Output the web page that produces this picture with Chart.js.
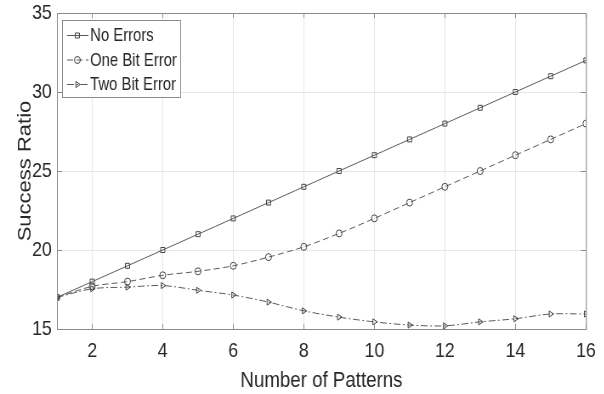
<!DOCTYPE html>
<html>
<head>
<meta charset="utf-8">
<script src="https://cdn.jsdelivr.net/npm/chart.js@4"></script>
<style>
  html, body { margin: 0; padding: 0; background: #fff; overflow: hidden; }
  /* the source figure is squeezed sideways, so the text is tall and narrow */
  #wrap { width: 711px; height: 394px; transform: scaleX(0.85); transform-origin: 0 0; }
</style>
</head>
<body>
<div id="wrap"><canvas id="chart" width="711" height="394"></canvas></div>
<script>
// data
const patterns = [1, 2, 3, 4, 5, 6, 7, 8, 9, 10, 11, 12, 13, 14, 15, 16];
const noErrors = [17, 18, 19, 20, 21, 22, 23, 24, 25, 26, 27, 28, 29, 30, 31, 32];
const oneBitError = [17, 17.7, 18, 18.4, 18.65, 19, 19.55, 20.2, 21.05, 22, 23, 24, 25, 26, 27, 28];
const twoBitError = [17, 17.55, 17.65, 17.75, 17.45, 17.15, 16.7, 16.15, 15.75, 15.45, 15.25, 15.2, 15.45, 15.65, 15.95, 15.95];
const seriesNames = ["No Errors", "One Bit Error", "Two Bit Error"];
const xTicks = [2, 4, 6, 8, 10, 12, 14, 16];

const FONT = "'Liberation Sans', Arial, sans-serif";
const LINE = "#5a5a5a";
const AXIS = "#8a8a8a";

function toPoints(values) {
  return patterns.map((p, i) => ({ x: p, y: values[i] }));
}

// 🔹 box round the plot + inward tick marks on all four sides
const boxPlugin = {
  id: "box",
  afterDraw(chart) {
    const { ctx, chartArea: a, scales } = chart;
    ctx.save();
    ctx.strokeStyle = AXIS;
    ctx.lineWidth = 1;
    ctx.strokeRect(a.left + 0.5, a.top + 0.5, a.right - a.left, a.bottom - a.top);
    ctx.beginPath();
    scales.x.ticks.forEach(t => {
      const x = Math.round(scales.x.getPixelForValue(t.value)) + 0.5;
      ctx.moveTo(x, a.bottom); ctx.lineTo(x, a.bottom - 5);
      ctx.moveTo(x, a.top); ctx.lineTo(x, a.top + 5);
    });
    scales.y.ticks.forEach(t => {
      const y = Math.round(scales.y.getPixelForValue(t.value)) + 0.5;
      ctx.moveTo(a.left, y); ctx.lineTo(a.left + 6, y);
      ctx.moveTo(a.right, y); ctx.lineTo(a.right - 6, y);
    });
    ctx.stroke();
    ctx.restore();
  }
};

// 🔹 legend inside the plot, top left
const innerLegend = {
  id: "innerLegend",
  afterDraw(chart) {
    const { ctx } = chart;
    const x0 = 73, y0 = 20, w = 139, h = 77;
    ctx.save();
    ctx.fillStyle = "#fff";
    ctx.fillRect(x0, y0, w, h);
    ctx.strokeStyle = AXIS;
    ctx.lineWidth = 1;
    ctx.strokeRect(x0 + 0.5, y0 + 0.5, w, h);
    ctx.font = "17.5px " + FONT;
    ctx.textBaseline = "middle";
    chart.data.datasets.forEach((ds, i) => {
      const y = y0 + 15.5 + i * 24.5;
      ctx.strokeStyle = ds.borderColor;
      ctx.lineWidth = 1;
      ctx.setLineDash(ds.borderDash || []);
      ctx.beginPath();
      ctx.moveTo(x0 + 6, y);
      ctx.lineTo(x0 + 31, y);
      ctx.stroke();
      ctx.setLineDash([]);
      ctx.fillStyle = "rgba(255,255,255,0)";
      ctx.strokeStyle = ds.pointBorderColor;
      Chart.helpers.drawPoint(ctx, {
        pointStyle: ds.pointStyle,
        rotation: ds.pointRotation || 0,
        radius: 3.5,
        borderWidth: 1
      }, x0 + 18, y);
      ctx.fillStyle = "#262626";
      ctx.fillText(ds.label, x0 + 33, y + 1);
    });
    ctx.restore();
  }
};

function makeDataset(label, values, dash, style, rot) {
  return {
    label,
    data: toPoints(values),
    borderColor: LINE,
    borderWidth: 1,
    borderDash: dash,
    pointStyle: style,
    pointRotation: rot,
    pointRadius: 3.5,
    pointBorderWidth: 1,
    pointBorderColor: "#444",
    pointBackgroundColor: "rgba(255,255,255,0)",
    tension: 0.3,
    fill: false
  };
}

new Chart(document.getElementById("chart"), {
  type: "line",
  data: {
    datasets: [
      makeDataset(seriesNames[0], noErrors, [], "rect", 0),
      makeDataset(seriesNames[1], oneBitError, [7, 4], "circle", 0),
      makeDataset(seriesNames[2], twoBitError, [8, 3, 2, 3], "triangle", 90)
    ]
  },
  options: {
    responsive: false,
    animation: false,
    layout: { padding: { top: 13, right: 20, left: 0, bottom: 0 } },
    plugins: {
      legend: { display: false },
      tooltip: { enabled: false }
    },
    scales: {
      x: {
        type: "linear",
        min: 1,
        max: 16,
        afterBuildTicks: (scale) => { scale.ticks = xTicks.map(v => ({ value: v })); },
        afterFit: (scale) => { scale.height = 65; },
        grid: { color: "#e6e6e6", drawTicks: false },
        border: { color: AXIS },
        ticks: { color: "#262626", font: { family: FONT, size: 21 }, padding: 10, maxRotation: 0 },
        title: { display: true, text: "Number of Patterns", color: "#262626", font: { family: FONT, size: 22 }, padding: { top: 2, bottom: 0 } }
      },
      y: {
        min: 15,
        max: 35,
        afterFit: (scale) => { scale.width = 67; scale.paddingTop = 0; scale.paddingBottom = 0; },
        ticks: { stepSize: 5, color: "#262626", font: { family: FONT, size: 21 }, padding: 6 },
        grid: { color: "#e6e6e6", drawTicks: false },
        border: { color: AXIS },
        title: { display: true, text: "Success Ratio", color: "#262626", font: { family: FONT, size: 22 }, padding: { top: 17, bottom: 0 } }
      }
    }
  },
  plugins: [boxPlugin, innerLegend]
});
</script>
</body>
</html>
